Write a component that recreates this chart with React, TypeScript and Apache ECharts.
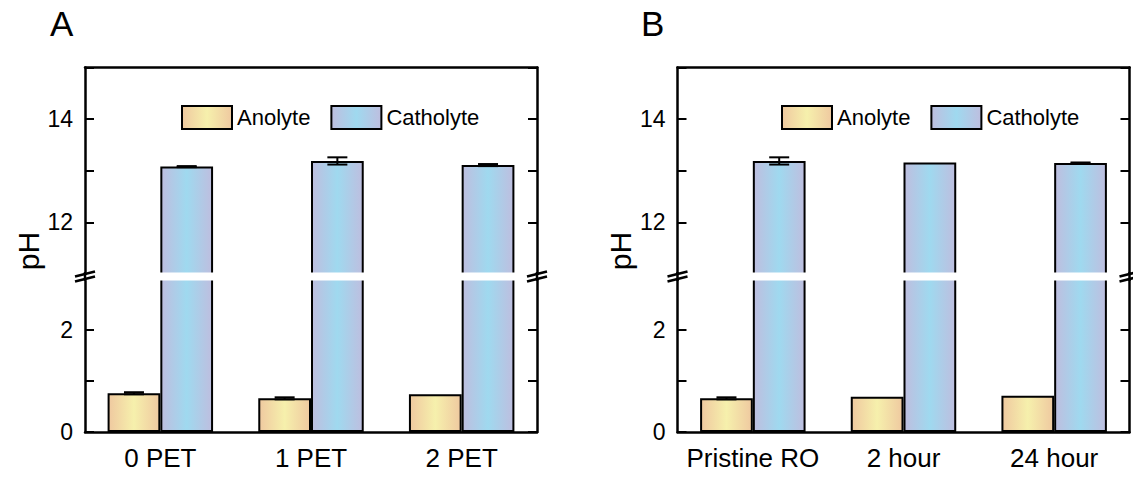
import React, { useEffect, useRef } from "react";
import * as echarts from "echarts";

const categoriesA = ["0 PET", "1 PET", "2 PET"];
const anolyteA = [0.76, 0.66, 0.74];
const anolyteErrA = [0.02, 0.02, 0];
const catholyteA = [13.08, 13.19, 13.11];
const catholyteErrA = [0.01, 0.07, 0.02];

const categoriesB = ["Pristine RO", "2 hour", "24 hour"];
const anolyteB = [0.66, 0.69, 0.71];
const anolyteErrB = [0.02, 0, 0];
const catholyteB = [13.19, 13.16, 13.15];
const catholyteErrB = [0.07, 0, 0.01];

const lowerRange = [0, 3];
const upperRange = [11, 15];
const lowerLabels = [0, 2];
const upperLabels = [12, 14];
const seriesNames = ["Anolyte", "Catholyte"];

const FONT = "'Liberation Sans', Arial, Helvetica, sans-serif";

const anoGrad = () =>
  new echarts.graphic.LinearGradient(0, 0, 1, 0, [
    { offset: 0, color: "#EFC9A0" },
    { offset: 0.5, color: "#F6F0AC" },
    { offset: 1, color: "#EFC9A0" },
  ]);
const catGrad = () =>
  new echarts.graphic.LinearGradient(0, 0, 1, 0, [
    { offset: 0, color: "#BEBEDF" },
    { offset: 0.5, color: "#9FD9EF" },
    { offset: 1, color: "#BEBEDF" },
  ]);

function errorSeries(xAxisIndex: number, yAxisIndex: number, means: number[], errs: number[], sign: number) {
  return {
    type: "custom",
    name: "err",
    xAxisIndex,
    yAxisIndex,
    z: 5,
    clip: false,
    data: means.map((m, i) => [i, m, errs[i]]),
    renderItem: (params: any, api: any) => {
      const i = api.value(0);
      const m = api.value(1);
      const e = api.value(2);
      if (!(e > 0)) return null;
      const band = api.size([1, 0])[0];
      const x = api.coord([i, m])[0] + sign * band * 0.175;
      const yt = api.coord([i, m + e])[1];
      const yb = api.coord([i, m - e])[1];
      const hw = 10;
      const style = { stroke: "#000", lineWidth: 2 };
      return {
        type: "group",
        children: [
          { type: "line", shape: { x1: x, y1: yt, x2: x, y2: yb }, style },
          { type: "line", shape: { x1: x - hw, y1: yt, x2: x + hw, y2: yt }, style },
          { type: "line", shape: { x1: x - hw, y1: yb, x2: x + hw, y2: yb }, style },
        ],
      };
    },
  };
}

export default function App() {
  const ref = useRef<HTMLDivElement>(null);
  useEffect(() => {
    if (!ref.current) return;
    const chart = echarts.init(ref.current, null, { renderer: "svg" });

    const gridW = 452;
    const lefts = [85, 677.5];
    const upTop = 67.5;
    const upBottom = 274;
    const lowTop = 279;
    const lowBottom = 432;
    const cats = [categoriesA, categoriesB];
    const anos = [anolyteA, anolyteB];
    const anoErrs = [anolyteErrA, anolyteErrB];
    const caths = [catholyteA, catholyteB];
    const cathErrs = [catholyteErrA, catholyteErrB];

    const grid: any[] = [];
    const xAxis: any[] = [];
    const yAxis: any[] = [];
    const series: any[] = [];
    const graphic: any[] = [];
    const legend: any[] = [];

    const lineStyle = { color: "#000", width: 2.5 };
    const tickCommon = { show: true, inside: true, length: 9, lineStyle: { color: "#000", width: 2 } };

    [0, 1].forEach((p) => {
      const left = lefts[p];
      grid.push({ left, top: upTop, width: gridW, height: upBottom - upTop, outerBoundsMode: "none", containLabel: false });
      grid.push({ left, top: lowTop, width: gridW, height: lowBottom - lowTop, outerBoundsMode: "none", containLabel: false });
      const gu = 2 * p;
      const gl = 2 * p + 1;
      xAxis.push({
        type: "category",
        gridIndex: gu,
        data: cats[p],
        position: "top",
        axisLine: { show: true, onZero: false, lineStyle },
        axisTick: { show: false },
        axisLabel: { show: false },
      });
      xAxis.push({
        type: "category",
        gridIndex: gl,
        data: cats[p],
        position: "bottom",
        axisLine: { show: true, onZero: false, lineStyle },
        axisTick: { show: false },
        axisLabel: { show: true, interval: 0, color: "#000", fontSize: 26, fontFamily: FONT, margin: 13 },
      });
      const xu = 2 * p;
      const xl = 2 * p + 1;
      const mkY = (gi: number, range: number[], labels: number[], pos: string) => ({
        type: "value",
        gridIndex: gi,
        position: pos,
        min: range[0],
        max: range[1],
        interval: 1,
        axisLine: { show: true, onZero: false, lineStyle },
        axisTick: tickCommon,
        splitLine: { show: false },
        axisLabel: {
          show: pos === "left",
          color: "#000",
          fontSize: 23,
          fontFamily: FONT,
          margin: 12,
          formatter: (v: number) => (labels.indexOf(v) >= 0 ? String(v) : ""),
        },
      });
      const yu = yAxis.length;
      yAxis.push(mkY(gu, upperRange, upperLabels, "left"));
      yAxis.push(mkY(gu, upperRange, upperLabels, "right"));
      const yl = yAxis.length;
      yAxis.push(mkY(gl, lowerRange, lowerLabels, "left"));
      yAxis.push(mkY(gl, lowerRange, lowerLabels, "right"));

      const barCommon = {
        type: "bar",
        barWidth: "35%",
        barGap: "0%",
        clip: true,
      };
      const anoStyle = { color: anoGrad(), borderColor: "#000", borderWidth: 2 };
      const catStyle = { color: catGrad(), borderColor: "#000", borderWidth: 2 };
      series.push({ ...barCommon, name: seriesNames[0], xAxisIndex: xu, yAxisIndex: yu, data: anos[p], itemStyle: anoStyle });
      series.push({ ...barCommon, name: seriesNames[1], xAxisIndex: xu, yAxisIndex: yu, data: caths[p], itemStyle: catStyle });
      series.push({ ...barCommon, name: seriesNames[0], xAxisIndex: xl, yAxisIndex: yl, data: anos[p], itemStyle: anoStyle });
      series.push({ ...barCommon, name: seriesNames[1], xAxisIndex: xl, yAxisIndex: yl, data: caths[p], itemStyle: catStyle });
      series.push(errorSeries(xl, yl, anos[p], anoErrs[p], -1));
      series.push(errorSeries(xu, yu, caths[p], cathErrs[p], 1));

      legend.push({
        data: seriesNames,
        left: p === 0 ? 181 : 781,
        top: 105,
        padding: 0,
        icon: "rect",
        itemWidth: 50,
        itemHeight: 23,
        itemGap: 20,
        selectedMode: false,
        textStyle: { color: "#000", fontSize: 22, fontFamily: FONT },
      });

      const right = left + gridW;
      graphic.push({
        type: "rect",
        z: 100,
        shape: { x: left + 1.5, y: 272.5, width: gridW - 3, height: 8 },
        style: { fill: "#fff" },
      });
      [left, right].forEach((ax) => {
        graphic.push({ type: "line", z: 101, shape: { x1: ax, y1: 272, x2: ax, y2: 281 }, style: { stroke: "#000", lineWidth: 2.5 } });
        graphic.push({ type: "line", z: 102, shape: { x1: ax - 10, y1: 276.5, x2: ax + 10, y2: 271.5 }, style: { stroke: "#000", lineWidth: 2.5 } });
        graphic.push({ type: "line", z: 102, shape: { x1: ax - 10, y1: 281.5, x2: ax + 10, y2: 276.5 }, style: { stroke: "#000", lineWidth: 2.5 } });
      });
      graphic.push({
        type: "text",
        z: 100,
        x: p === 0 ? 28 : 620,
        y: 251,
        rotation: Math.PI / 2,
        style: { text: "pH", fill: "#000", fontSize: 30, fontFamily: FONT, align: "center", verticalAlign: "middle" },
      });
      graphic.push({
        type: "text",
        z: 100,
        x: p === 0 ? 50 : 641,
        y: 6,
        style: { text: p === 0 ? "A" : "B", fill: "#000", fontSize: 35, fontFamily: FONT },
      });
    });

    chart.setOption({
      animation: false,
      backgroundColor: "#fff",
      textStyle: { fontFamily: FONT },
      grid,
      xAxis,
      yAxis,
      series,
      legend,
      graphic,
    });
    return () => chart.dispose();
  }, []);
  return (
    <div
      ref={ref}
      style={{ position: "fixed", left: 0, top: 0, width: 1133, height: 479, background: "#fff" }}
    />
  );
}
